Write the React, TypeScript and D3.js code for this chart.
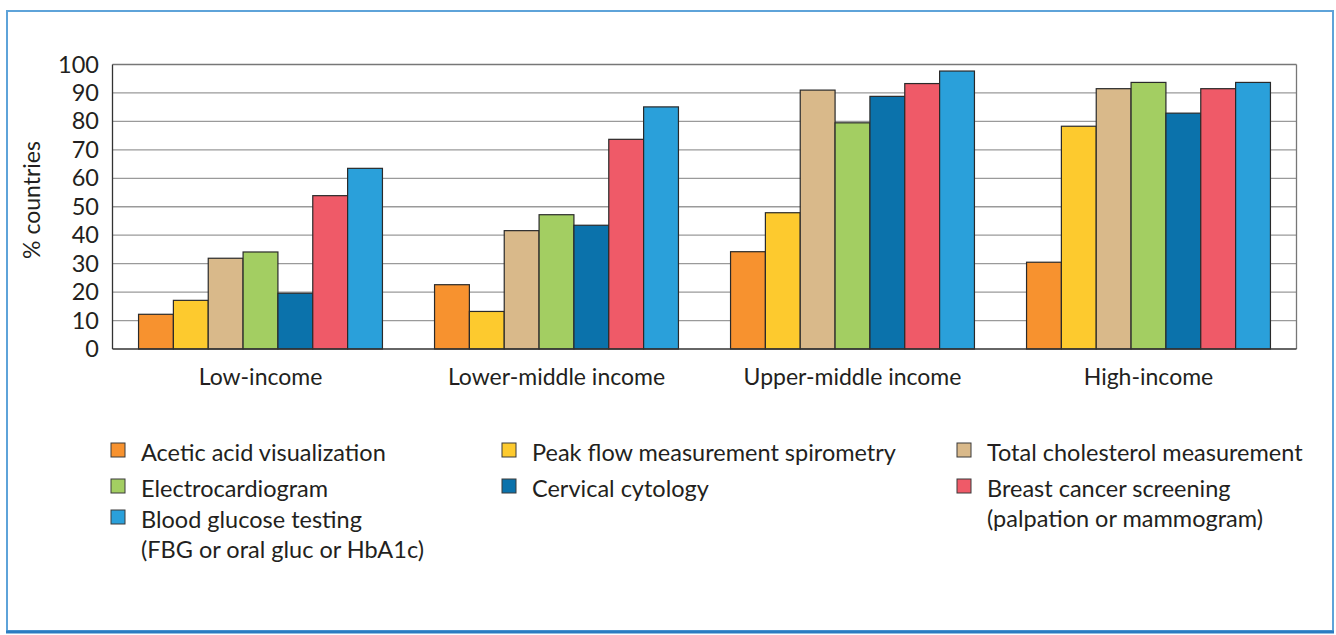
import React from "react";
import * as d3 from "d3";

const categories = ["Low-income", "Lower-middle income", "Upper-middle income", "High-income"];
const seriesNames = [
  "Acetic acid visualization",
  "Peak flow measurement spirometry",
  "Total cholesterol measurement",
  "Electrocardiogram",
  "Cervical cytology",
  "Breast cancer screening (palpation or mammogram)",
  "Blood glucose testing (FBG or oral gluc or HbA1c)",
];
const aceticAcid = [12.2, 22.6, 34.2, 30.5];
const peakFlow = [17.1, 13.2, 47.9, 78.3];
const cholesterol = [31.9, 41.6, 91.0, 91.5];
const ecg = [34.1, 47.2, 79.5, 93.7];
const cervical = [19.6, 43.5, 88.8, 82.9];
const breast = [53.9, 73.7, 93.3, 91.5];
const glucose = [63.5, 85.1, 97.7, 93.7];
const seriesValues = [aceticAcid, peakFlow, cholesterol, ecg, cervical, breast, glucose];
const yTicks = [0, 10, 20, 30, 40, 50, 60, 70, 80, 90, 100];

const colors = ["#f7922f", "#fdca2e", "#d9b98a", "#a3ce62", "#0b72ab", "#ef5a68", "#2aa0da"];

const legendItems = [
  { lines: ["Acetic acid visualization"], col: 0, row: 0 },
  { lines: ["Peak flow measurement spirometry"], col: 1, row: 0 },
  { lines: ["Total cholesterol measurement"], col: 2, row: 0 },
  { lines: ["Electrocardiogram"], col: 0, row: 1 },
  { lines: ["Cervical cytology"], col: 1, row: 1 },
  { lines: ["Breast cancer screening", "(palpation or mammogram)"], col: 2, row: 1 },
  { lines: ["Blood glucose testing", "(FBG or oral gluc or HbA1c)"], col: 0, row: 2 },
];

const FONT = "Lato, 'DejaVu Sans', sans-serif";
const TEXT = "#231f20";

export default function App() {
  const W = 1336, H = 635;
  const left = 112.5, right = 1296.5, top = 64.5, bottom = 349;

  const x0 = d3.scaleBand<string>().domain(categories).range([left, right]).paddingInner(0.176).paddingOuter(0.088);
  const x1 = d3.scaleBand<number>().domain(d3.range(seriesValues.length)).range([0, x0.bandwidth()]).padding(0);
  const y = d3.scaleLinear().domain([0, 100]).range([bottom, top]);

  const legendX = [111, 502, 957];
  const legendRowY = [461, 497, 528];
  const lineH = 30;

  return (
    <svg width={W} height={H} style={{ position: "fixed", left: 0, top: 0, background: "#fff" }} fontFamily={FONT}>
      <rect x={7} y={11} width={1326} height={620} fill="none" stroke="#5ea3d9" strokeWidth={2} />
      <line x1={6} x2={1334} y1={632} y2={632} stroke="#2b7cc1" strokeWidth={3} />

      {yTicks.filter((t) => t > 0).map((t) => (
        <line key={t} x1={left} x2={right} y1={y(t)} y2={y(t)} stroke={t === 100 ? "#777" : "#9a9a9a"} strokeWidth={1.3} />
      ))}
      <line x1={right} x2={right} y1={top} y2={bottom} stroke="#777" strokeWidth={1.3} />
      <line x1={left} x2={left} y1={top} y2={bottom} stroke="#333" strokeWidth={1.3} />

      {categories.map((c, ci) => (
        <g key={c} transform={`translate(${x0(c)},0)`}>
          {seriesValues.map((vals, si) => (
            <rect
              key={si}
              x={x1(si)}
              y={y(vals[ci])}
              width={x1.bandwidth()}
              height={y(0) - y(vals[ci])}
              fill={colors[si]}
              stroke="#2a2a2a"
              strokeWidth={1.2}
            />
          ))}
        </g>
      ))}
      <line x1={left} x2={right} y1={bottom} y2={bottom} stroke="#333" strokeWidth={1.6} />

      {yTicks.map((t) => (
        <text key={t} x={99} y={y(t) + 8} textAnchor="end" fontSize={23.5} fill={TEXT}>
          {t}
        </text>
      ))}
      <text transform={`translate(40,200) rotate(-90)`} textAnchor="middle" fontSize={23} fill={TEXT}>
        % countries
      </text>

      {categories.map((c) => (
        <text key={c} x={(x0(c) as number) + x0.bandwidth() / 2} y={385} textAnchor="middle" fontSize={23} fill={TEXT}>
          {c}
        </text>
      ))}

      {legendItems.map((it, i) => {
        const lx = legendX[it.col];
        const ly = legendRowY[it.row];
        return (
          <g key={i}>
            <rect x={lx} y={ly - 18} width={14} height={14} fill={colors[i]} stroke="#3a3a3a" strokeWidth={1} />
            {it.lines.map((ln, li) => (
              <text key={li} x={lx + 30} y={ly + li * lineH} fontSize={23.5} fill={TEXT}>
                {ln}
              </text>
            ))}
          </g>
        );
      })}
    </svg>
  );
}
